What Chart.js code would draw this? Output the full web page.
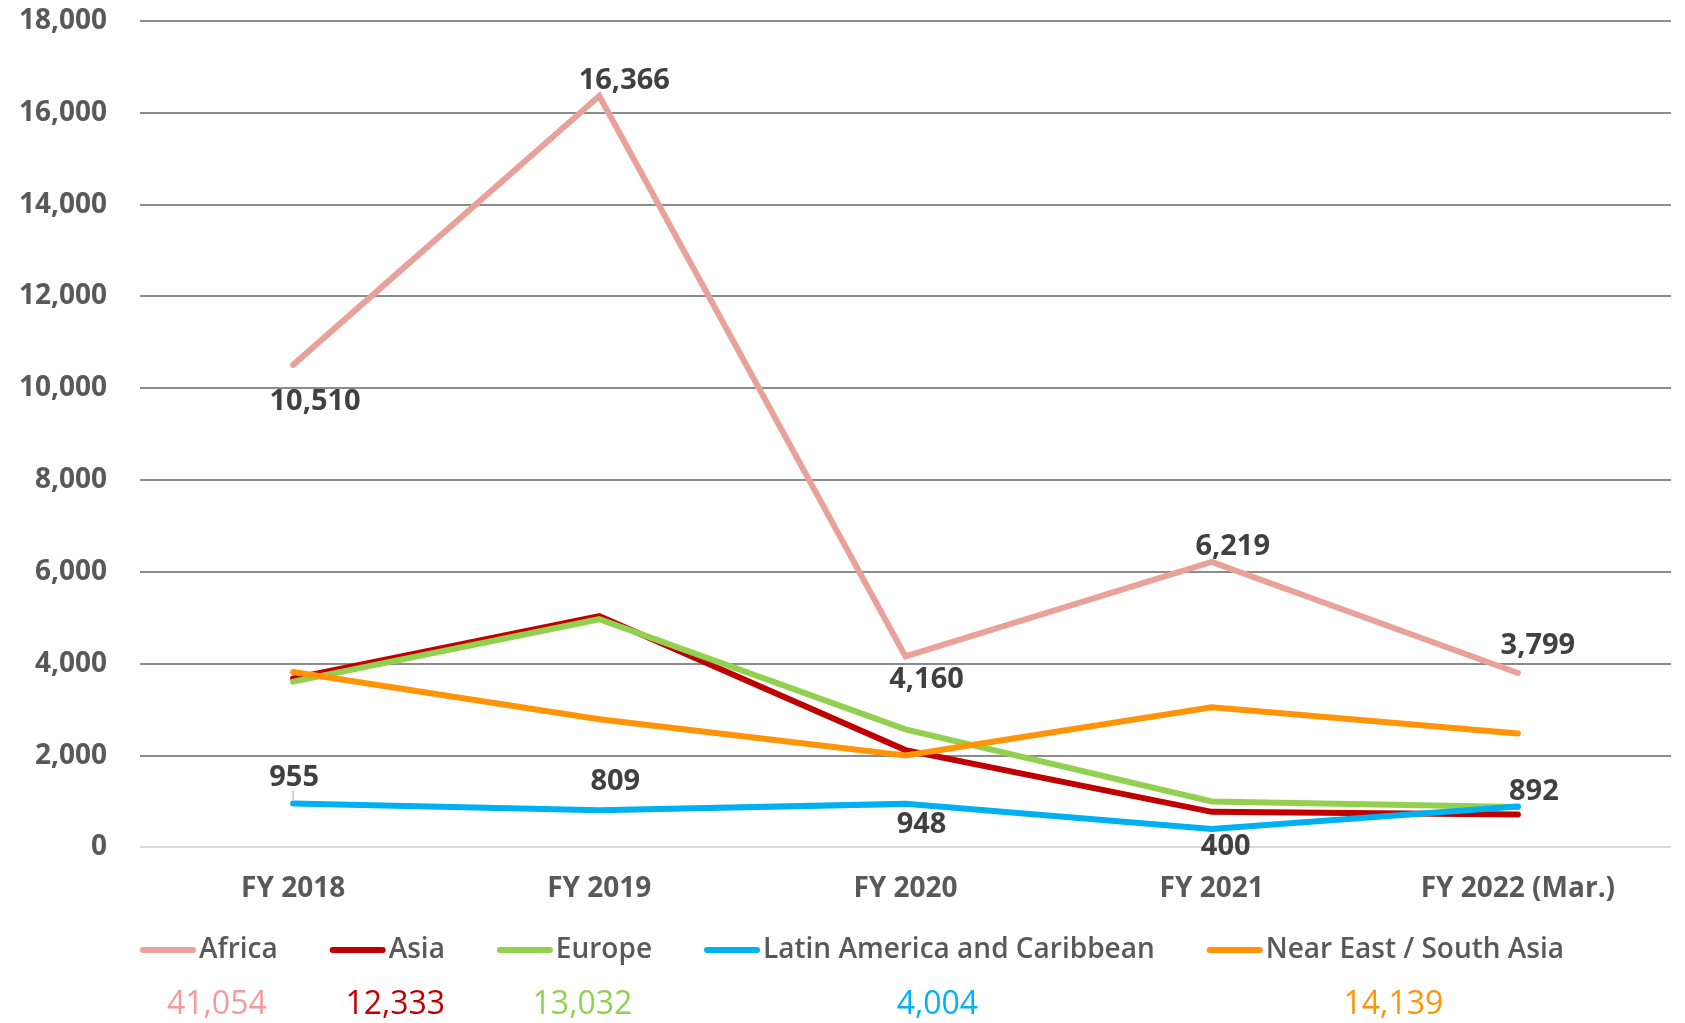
<!DOCTYPE html>
<html>
<head>
<meta charset="utf-8">
<title>Regions by fiscal year</title>
<script src="https://cdn.jsdelivr.net/npm/chart.js@4.4.1/dist/chart.umd.min.js"></script>
<style>
  html, body { margin: 0; padding: 0; background: #ffffff; }
  #wrap { width: 1685px; height: 1023px; position: relative; }
</style>
</head>
<body>
<div id="wrap"><canvas id="lineChart"></canvas></div>
<script>
// categories and series values
const categories = ['FY 2018', 'FY 2019', 'FY 2020', 'FY 2021', 'FY 2022 (Mar.)'];
const africa = [10510, 16366, 4160, 6219, 3799];
const asia = [3680, 5040, 2120, 775, 718];
const europe = [3610, 4970, 2570, 1000, 882];
const latinAmerica = [955, 809, 948, 400, 892];
const nearEast = [3820, 2790, 2000, 3050, 2479];
const totals = ['41,054', '12,333', '13,032', '4,004', '14,139'];
const yMin = 0, yMax = 18000, yStep = 2000;

// where the value labels sit relative to their point (px)
const africaLabelOffsets = [[22, 37], [25, -15], [21, 23], [21, -15], [20, -27]];
const latinLabelOffsets = [[1, -26], [16, -29], [16, 21], [14, 18], [16, -15]];

const FONT = "'Open Sans', 'DejaVu Sans', sans-serif";
const TEXT = '#595959';

// 数据标签
const pointLabels = {
  id: 'pointLabels',
  afterDatasetsDraw(chart) {
    const ctx = chart.ctx;
    ctx.save();
    ctx.font = '700 29px ' + FONT;
    ctx.fillStyle = '#404040';
    ctx.textAlign = 'center';
    ctx.textBaseline = 'middle';
    chart.data.datasets.forEach((ds, di) => {
      if (!ds.labelOffsets) return;
      const meta = chart.getDatasetMeta(di);
      meta.data.forEach((pt, i) => {
        const off = ds.labelOffsets[i];
        ctx.fillText(ds.data[i].toLocaleString('en-US'), pt.x + off[0], pt.y + off[1]);
      });
    });
    // leader line of the first blue label
    const m = chart.getDatasetMeta(3).data[0];
    ctx.strokeStyle = '#a6a6a6';
    ctx.lineWidth = 1;
    ctx.beginPath();
    ctx.moveTo(m.x, m.y - 13);
    ctx.lineTo(m.x, m.y - 4);
    ctx.stroke();
    ctx.restore();
  }
};

// 图例 + 合计
const bottomLegend = {
  id: 'bottomLegend',
  afterDraw(chart) {
    const ctx = chart.ctx;
    const sets = chart.data.datasets;
    const lineLen = 56, gap = 3, spacing = 52;
    const legendY = 950, totalY = 1005;
    ctx.save();
    ctx.font = '600 28px ' + FONT;
    const widths = sets.map(ds => lineLen + gap + ctx.measureText(ds.label).width);
    let x = chart.chartArea.left;
    sets.forEach((ds, i) => {
      ctx.strokeStyle = ds.borderColor;
      ctx.lineWidth = 6;
      ctx.lineCap = 'round';
      ctx.beginPath();
      ctx.moveTo(x + 3, legendY);
      ctx.lineTo(x + lineLen - 3, legendY);
      ctx.stroke();
      ctx.font = '600 28px ' + FONT;
      ctx.fillStyle = TEXT;
      ctx.textAlign = 'left';
      ctx.textBaseline = 'middle';
      ctx.fillText(ds.label, x + lineLen + gap, legendY);
      ctx.font = '400 32px ' + FONT;
      ctx.fillStyle = ds.totalColor;
      ctx.textAlign = 'center';
      ctx.fillText(totals[i], x + widths[i] / 2 + 8, totalY);
      x += widths[i] + spacing;
    });
    ctx.restore();
  }
};

const seriesDefs = [
  { label: 'Africa', data: africa, color: '#E8A29A', totalColor: '#F49A9A', labelOffsets: africaLabelOffsets },
  { label: 'Asia', data: asia, color: '#C00000', totalColor: '#C00000' },
  { label: 'Europe', data: europe, color: '#92D050', totalColor: '#92D050' },
  { label: 'Latin America and Caribbean', data: latinAmerica, color: '#00B0F0', totalColor: '#00B0F0', labelOffsets: latinLabelOffsets },
  { label: 'Near East / South Asia', data: nearEast, color: '#FF9409', totalColor: '#FF9409' }
];

const datasets = seriesDefs.map((s, i) => ({
  label: s.label,
  data: s.data,
  borderColor: s.color,
  backgroundColor: s.color,
  borderWidth: 6,
  pointRadius: 0,
  tension: 0,
  borderCapStyle: 'round',
  order: seriesDefs.length - i,
  totalColor: s.totalColor,
  labelOffsets: s.labelOffsets
}));

const ctx = document.getElementById('lineChart').getContext('2d');
new Chart(ctx, {
  type: 'line',
  data: { labels: categories, datasets: datasets },
  plugins: [pointLabels, bottomLegend],
  options: {
    responsive: true,
    maintainAspectRatio: false,
    animation: false,
    layout: { padding: { left: 0, right: 14, top: 21, bottom: 100 } },
    scales: {
      x: {
        offset: true,
        grid: { display: false },
        border: { display: false },
        ticks: {
          color: TEXT,
          padding: 17,
          font: { family: FONT, size: 28, weight: '700' }
        },
        afterFit: s => { s.paddingLeft = 0; s.paddingRight = 0; }
      },
      y: {
        min: yMin,
        max: yMax,
        border: { display: false },
        grid: {
          color: c => c.index === 0 ? '#d9d9d9' : '#8c8c8c',
          lineWidth: 2,
          drawTicks: false
        },
        ticks: {
          stepSize: yStep,
          color: TEXT,
          padding: 33,
          font: { family: FONT, size: 28, weight: '700' },
          callback: v => v.toLocaleString('en-US')
        },
        afterFit: s => { s.width = 140; s.paddingTop = 0; s.paddingBottom = 0; }
      }
    },
    plugins: {
      tooltip: { enabled: false },
      legend: { display: false }
    }
  }
});
</script>
</body>
</html>
